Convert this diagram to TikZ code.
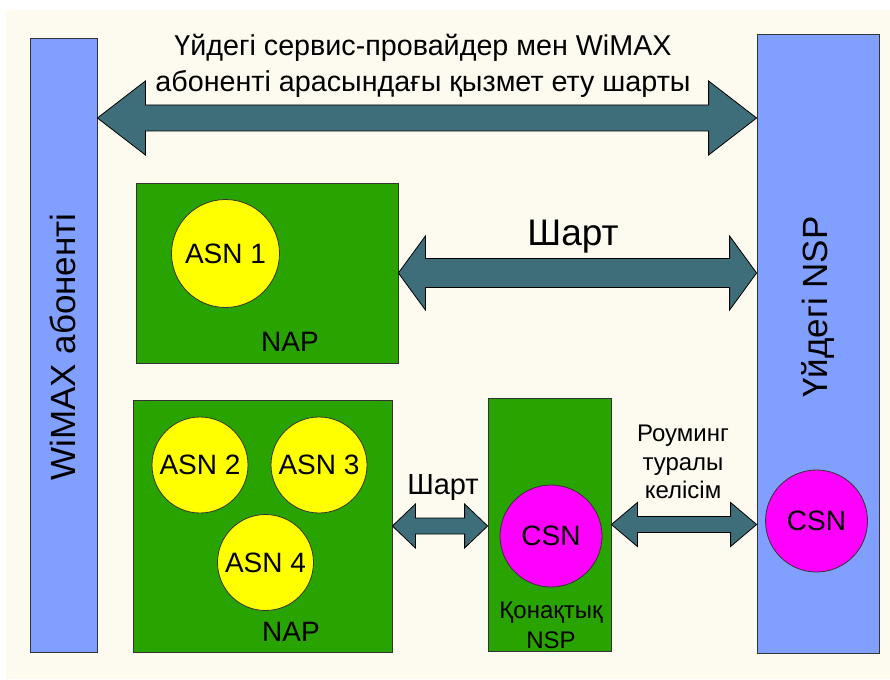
\documentclass[tikz,border=0pt]{standalone}
\usepackage{fontspec}
\setmainfont{Liberation Sans}
\usetikzlibrary{calc,positioning}
\definecolor{cA}{HTML}{3F6E7B}
\definecolor{cB}{HTML}{809FFF}
\definecolor{cG}{HTML}{29A300}
\definecolor{cY}{HTML}{FFFF00}
\definecolor{cM}{HTML}{FF00FF}
\definecolor{cP}{HTML}{FDFAEF}
\definecolor{cE}{HTML}{333333}
\tikzset{
  bar/.style={draw=cE,line width=0.8pt,fill=cB,inner sep=0pt},
  netbox/.style={draw=cE,line width=0.8pt,fill=cG,inner sep=0pt},
  asn/.style={circle,draw=cE,line width=0.8pt,fill=cY,inner sep=0pt,
              minimum size=96pt,font=\fontsize{28}{30}\selectfont},
  csn/.style={asn,fill=cM,minimum size=102pt},
  fatarr/.style={draw=black,line width=0.8pt,fill=cA,line join=miter},
  lbl/.style={inner sep=0pt,align=center,font=\fontsize{28}{36}\selectfont},
}
% fat two-headed arrow: from, to, shaft half, head half, head length
\newcommand{\fatarrow}[5]{%
  \draw[fatarr] let \p1=(#1), \p2=(#2) in
    (\x1,\y1) -- (\x1+#5pt,\y1+#4pt) -- (\x1+#5pt,\y1+#3pt)
    -- (\x2-#5pt,\y1+#3pt) -- (\x2-#5pt,\y1+#4pt) -- (\x2,\y1)
    -- (\x2-#5pt,\y1-#4pt) -- (\x2-#5pt,\y1-#3pt)
    -- (\x1+#5pt,\y1-#3pt) -- (\x1+#5pt,\y1-#4pt) -- cycle;}

\begin{document}
\begin{tikzpicture}[x=1pt,y=-1pt]
  \useasboundingbox (0,0) rectangle (890,679);
  \fill[cP] (6,10) rectangle (890,679);
  % subscriber and home NSP
  \node[bar,minimum width=67pt,minimum height=614pt] (wimax) at (63.5,345){};
  \node[bar,minimum width=122pt,minimum height=619pt] (home) at (818,343.5){};
  \node[lbl,rotate=90,font=\fontsize{35}{40}\selectfont] (wimaxlbl) at (63,347){WiMAX абоненті};
  \node[lbl,rotate=90,font=\fontsize{35}{40}\selectfont] (homelbl) at (818,307){Үйдегі NSP};
  % upper NAP
  \node[netbox,minimum width=262pt,minimum height=180pt] (nap1) at (267,273){};
  \node[asn,minimum size=108pt] (asn1) at (225.5,253.5){ASN 1};
  \node[lbl] (nap1lbl) at (290,342){NAP};
  % lower NAP
  \node[netbox,minimum width=259pt,minimum height=252pt] (nap2) at (262.5,526){};
  \foreach \n/\px/\py in {2/200/465,3/319/465,4/265.5/562.5}
    \node[asn] (asn\n) at (\px,\py){ASN \n};
  \node[lbl] (nap2lbl) at (291,632){NAP};
  % visited NSP
  \node[netbox,minimum width=123pt,minimum height=253pt] (guest) at (549.5,524.5){};
  \node[csn] (csnv) at (551,536){CSN};
  \node[lbl,font=\fontsize{24}{30}\selectfont] (guestlbl) at (551,625){Қонақтық\\NSP};
  \node[csn] (csnh) at (816.5,521){CSN};
  % agreements
  \coordinate (topy) at (0,118);
  \fatarrow{wimax.east |- topy}{home.west |- topy}{13}{37}{48}
  \node[lbl,font=\fontsize{28.7}{36}\selectfont] (toplbl) at (423,66)
    {Үйдегі сервис-провайдер мен WiMAX\\абоненті арасындағы қызмет ету шарты};
  \fatarrow{nap1.east}{nap1.east -| home.west}{14.5}{37}{27}
  \node[lbl,font=\fontsize{37}{40}\selectfont] (c1lbl) at (573,237){Шарт};
  \fatarrow{nap2.east}{guest.west}{8}{22}{23}
  \node[lbl,font=\fontsize{29}{32}\selectfont] (c2lbl) at (443,488){Шарт};
  \fatarrow{guest.east}{guest.east -| home.west}{8}{22}{26}
  \node[lbl,font=\fontsize{24}{28.5}\selectfont] (roamlbl) at (683,462){Роуминг\\туралы\\келісім};
\end{tikzpicture}
\end{document}
